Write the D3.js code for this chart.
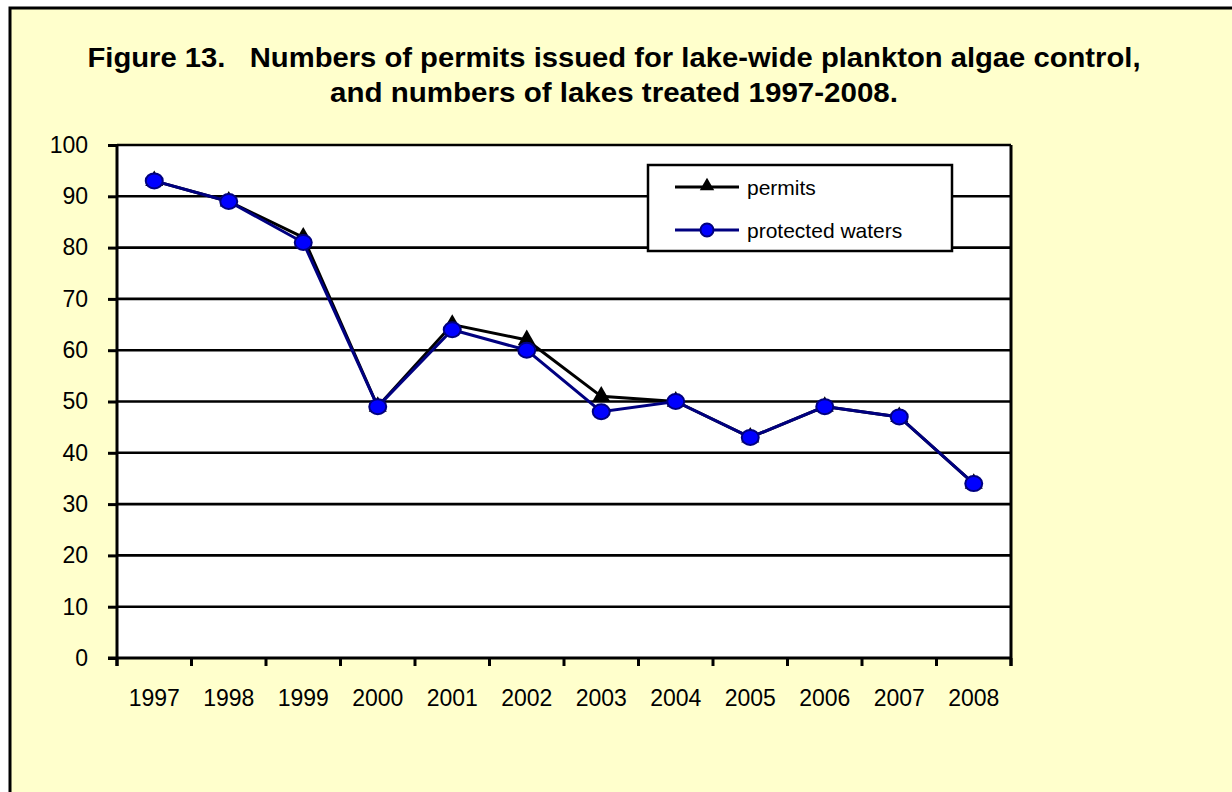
<!DOCTYPE html>
<html><head><meta charset="utf-8">
<script src="https://cdn.jsdelivr.net/npm/d3@7"></script>
<style>html,body{margin:0;padding:0;background:#fff;}svg{display:block;}</style>
</head><body>
<script>
const years = ["1997","1998","1999","2000","2001","2002","2003","2004","2005","2006","2007","2008"];
const permits = [93, 89, 82, 49, 65, 62, 51, 50, 43, 49, 47, 34];
const protectedWaters = [93, 89, 81, 49, 64, 60, 48, 50, 43, 49, 47, 34];
const yTicks = [0,10,20,30,40,50,60,70,80,90,100];
const titleLines = ["Figure 13.   Numbers of permits issued for lake-wide plankton algae control,", "and numbers of lakes treated 1997-2008."];

const W = 1232, H = 792;
const svg = d3.select("body").append("svg").attr("width", W).attr("height", H);
const font = "Arial, 'Liberation Sans', sans-serif";

svg.append("rect").attr("x",0).attr("y",0).attr("width",W).attr("height",H).attr("fill","#fff");
svg.append("rect").attr("x",10).attr("y",8).attr("width",W+20).attr("height",H+20)
  .attr("fill","#FFFFCC").attr("stroke","#000").attr("stroke-width",3);

const titleW = [1053, 568];
svg.selectAll("text.title").data(titleLines).enter().append("text")
  .attr("x",614).attr("y",(d,i)=>67+i*35).attr("text-anchor","middle")
  .attr("font-family",font).attr("font-weight","bold").attr("font-size",28)
  .attr("textLength",(d,i)=>titleW[i]).attr("lengthAdjust","spacingAndGlyphs")
  .attr("xml:space","preserve").style("white-space","pre").text(d=>d);

const L=117, R=1011, T=145, B=658;
const x = d3.scaleBand().domain(years).range([L,R]);
const y = d3.scaleLinear().domain([0,100]).range([B,T]);

svg.append("rect").attr("x",L).attr("y",T).attr("width",R-L).attr("height",B-T).attr("fill","#fff");

// gridlines
svg.append("g").selectAll("line").data(yTicks.filter(d=>d>0)).enter().append("line")
  .attr("x1",L).attr("x2",R).attr("y1",d=>y(d)).attr("y2",d=>y(d))
  .attr("stroke","#000").attr("stroke-width",2.6);

// right border of plot
svg.append("line").attr("x1",R).attr("x2",R).attr("y1",T).attr("y2",B+8).attr("stroke","#000").attr("stroke-width",3);

// y axis
const yAxis = d3.axisLeft(y).tickValues(yTicks).tickSize(9).tickPadding(20);
const gy = svg.append("g").attr("transform",`translate(${L},0)`).call(yAxis);
gy.select(".domain").attr("stroke-width",3).attr("d",`M0,${B+8}V${T}`);
gy.selectAll(".tick line").attr("stroke-width",3);
gy.selectAll("text").attr("font-family",font).attr("font-size",23).attr("fill","#000");

// x axis
const xAxis = d3.axisBottom(x).tickSize(0).tickPadding(32);
const gx = svg.append("g").attr("transform",`translate(0,${B})`).call(xAxis);
gx.select(".domain").attr("stroke-width",3).attr("d",`M${L-9},0H${R}`);
gx.selectAll("text").attr("font-family",font).attr("font-size",23).attr("fill","#000");
// band boundary ticks
const bounds = years.map(d=>x(d)).concat([R]);
svg.append("g").selectAll("line").data(bounds).enter().append("line")
  .attr("x1",d=>d).attr("x2",d=>d).attr("y1",B).attr("y2",B+8)
  .attr("stroke","#000").attr("stroke-width",3);

const cx = d=>x(d)+x.bandwidth()/2;
const line = d3.line().x((d,i)=>cx(years[i])).y(d=>y(d));
const tri = d3.symbol().type(d3.symbolTriangle).size(140);

// permits
svg.append("path").datum(permits).attr("d",line).attr("fill","none").attr("stroke","#000").attr("stroke-width",3);
svg.append("g").selectAll("path").data(permits).enter().append("path")
  .attr("d",tri).attr("transform",(d,i)=>`translate(${cx(years[i])},${y(d)})`).attr("fill","#000");

// protected waters
svg.append("path").datum(protectedWaters).attr("d",line).attr("fill","none").attr("stroke","#000080").attr("stroke-width",3);
svg.append("g").selectAll("ellipse").data(protectedWaters).enter().append("ellipse")
  .attr("cx",(d,i)=>cx(years[i])).attr("cy",d=>y(d)).attr("rx",8.5).attr("ry",7.5)
  .attr("fill","#0000FF").attr("stroke","#000080").attr("stroke-width",2);

// legend
const lg = svg.append("g");
lg.append("rect").attr("x",648).attr("y",165).attr("width",304).attr("height",86)
  .attr("fill","#fff").attr("stroke","#000").attr("stroke-width",2.5);
const leg = [{name:"permits", y:187, color:"#000", marker:"tri"},{name:"protected waters", y:230, color:"#000080", marker:"circle"}];
const triL = d3.symbol().type(d3.symbolTriangle).size(90);
leg.forEach(s=>{
  lg.append("line").attr("x1",675).attr("x2",739).attr("y1",s.y).attr("y2",s.y).attr("stroke",s.color).attr("stroke-width",3);
  if(s.marker==="tri"){
    lg.append("path").attr("d",triL).attr("transform",`translate(707,${s.y-1})`).attr("fill","#000");
  } else {
    lg.append("circle").attr("cx",707).attr("cy",s.y).attr("r",6.5).attr("fill","#0000FF").attr("stroke","#000080").attr("stroke-width",2);
  }
  lg.append("text").attr("x",747).attr("y",s.y+8).attr("font-family",font).attr("font-size",21).text(s.name);
});
</script>
</body></html>
